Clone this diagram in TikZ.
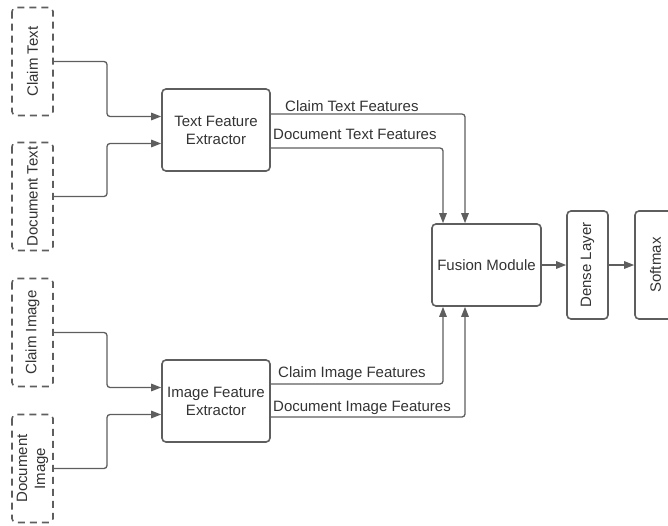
\documentclass[tikz,border=0pt]{standalone}
\usepackage{fontspec}
\setmainfont{Liberation Sans}
\usetikzlibrary{arrows.meta}
\usetikzlibrary{calc}
\usetikzlibrary{positioning}
\definecolor{linegray}{HTML}{5E5E5E}
\definecolor{textgray}{HTML}{333333}

\tikzset{
    block/.style={draw=linegray, line width=1.6pt, rounded corners=4pt, text=textgray, align=center, minimum width=108pt, minimum height=82pt},
    inputbox/.style={draw=linegray, line width=1.6pt, dash pattern=on 7pt off 5pt, rounded corners=4pt, rotate=90, text=textgray, align=center, minimum width=108pt, minimum height=41pt, inner sep=2pt},
    layer/.style={draw=linegray, line width=1.6pt, rounded corners=4pt, rotate=90, text=textgray, minimum width=108pt, minimum height=41pt},
    link/.style={draw=linegray, line width=1.3pt, rounded corners=3pt, -{Triangle[length=10pt,width=7.5pt]}},
    feat/.style={anchor=base west, text=textgray, inner sep=0pt}
}

\begin{document}
\begin{tikzpicture}[x=1pt, y=-1pt, font=\fontsize{15pt}{18pt}\selectfont]
    \useasboundingbox (0,0) rectangle (668,525);
    \clip (0,0) rectangle (668,525);

    % inputs
    \node[inputbox] (ctext) at (32.5,61.5) {Claim Text};
    \node[inputbox] (dtext) at (32.5,196.5) {Document Text};
    \node[inputbox] (cimage) at (32.5,332.5) {Claim Image};
    \node[inputbox] (dimage) at (32.5,468.5) {Document\\Image};
    \coordinate (joinx) at (107,0);

    % extractors and fusion
    \node[block] (tfe) at (216,130) {Text Feature\\Extractor};
    \node[block] (ife) at (216,401) {Image Feature\\Extractor};
    \node[block, minimum width=109pt] (fusion) at (486.5,265) {Fusion Module};
    \node[layer] (dense) at (587.5,265) {Dense Layer};
    \node[layer] (softmax) at (655.5,265) {Softmax};

    \draw[link] (ctext) -- (ctext -| joinx) |- ([yshift=13.5pt]tfe.west);
    \draw[link] (dtext) -- (dtext -| joinx) |- ([yshift=-13.5pt]tfe.west);
    \draw[link] (cimage) -- (cimage -| joinx) |- ([yshift=13.5pt]ife.west);
    \draw[link] (dimage) -- (dimage -| joinx) |- ([yshift=-13.5pt]ife.west);

    \draw[link] ([yshift=16pt]tfe.east) -| ([xshift=-21.5pt]fusion.north);
    \draw[link] ([yshift=-18pt]tfe.east) -| ([xshift=-43.5pt]fusion.north);
    \draw[link] ([yshift=17pt]ife.east) -| ([xshift=-43.5pt]fusion.south);
    \draw[link] ([yshift=-16pt]ife.east) -| ([xshift=-21.5pt]fusion.south);
    \node[feat] (ctfeat) at (285,111) {Claim Text Features};
    \node[feat] (dtfeat) at (273,139) {Document Text Features};
    \node[feat] (cifeat) at (278,377) {Claim Image Features};
    \node[feat] (difeat) at (273,411) {Document Image Features};

    \draw[link] (fusion) -- (dense);
    \draw[link] (dense) -- (softmax);
\end{tikzpicture}
\end{document}
